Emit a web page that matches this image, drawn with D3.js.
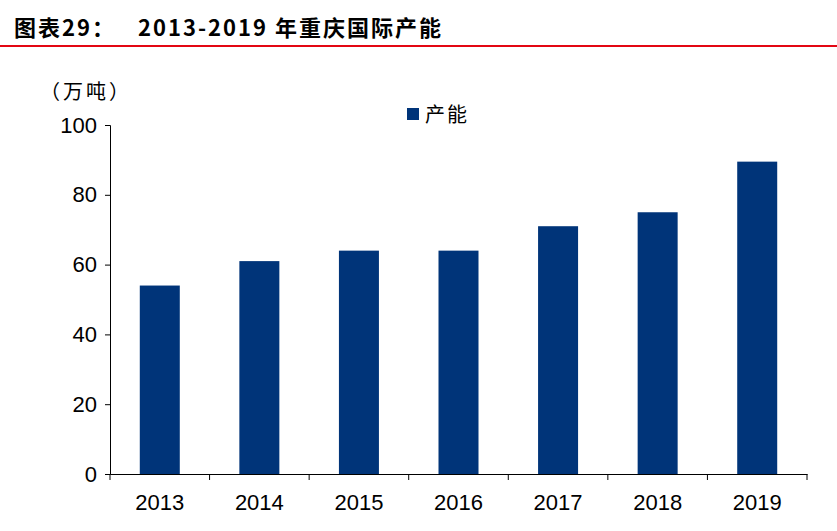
<!DOCTYPE html>
<html lang="zh">
<head>
<meta charset="UTF-8" />
<title>重庆国际产能</title>
<style>
  body { margin: 0; background: #fff; }
  text { font-family: "Liberation Sans", Arial, sans-serif; }
  .cjk { font-family: "Noto Sans CJK SC", sans-serif; }
</style>
</head>
<body>
<div id="container"></div>
<script src="https://cdnjs.cloudflare.com/ajax/libs/d3/7.8.5/d3.min.js"></script>
<script>
  let years = ["2013", "2014", "2015", "2016", "2017", "2018", "2019"],
      capacity = [54, 61, 64, 64, 71, 75, 89.5],
      yTicks = [0, 20, 40, 60, 80, 100];

  let W = 837, H = 531,
      m = { left: 110, right: 30, top: 125, bottom: 57 };

  let svg = d3.select("#container").append("svg").attr("width", W).attr("height", H);

  // 标题
  let title = svg.append("text").attr("class", "cjk").attr("y", 36)
    .attr("font-size", 22).attr("font-weight", "bold").attr("letter-spacing", 2);
  title.append("tspan").attr("x", 14).text("图表29：");
  title.append("tspan").attr("x", 138).text("2013-2019 年重庆国际产能");
  svg.append("line").attr("x1", 0).attr("x2", W).attr("y1", 46).attr("y2", 46)
    .attr("stroke", "#e30613").attr("stroke-width", 2);

  let x = d3.scaleBand().domain(years).range([m.left, W - m.right]).paddingInner(0).paddingOuter(0);
  let y = d3.scaleLinear().domain([0, 100]).range([H - m.bottom, m.top]);

  let g = svg.append("g");
  g.selectAll("rect").data(capacity).enter().append("rect")
    .attr("x", (d, i) => x(years[i]) + x.bandwidth() / 2 - 20)
    .attr("width", 40)
    .attr("y", d => y(d))
    .attr("height", d => y(0) - y(d))
    .attr("fill", "#003479");

  let ya = svg.append("g").attr("transform", `translate(${m.left},0)`)
    .call(d3.axisLeft(y).tickValues(yTicks).tickSize(5).tickPadding(8));
  ya.selectAll("text").attr("font-size", 22).attr("fill", "#000");
  ya.selectAll("path, line").attr("stroke", "#000");

  let xa = svg.append("g").attr("transform", `translate(0,${y(0)})`)
    .call(d3.axisBottom(x).tickSize(0).tickPadding(20));
  xa.selectAll("text").attr("font-size", 22).attr("fill", "#000");
  xa.select("path").attr("stroke", "#000");
  // 类别间刻度
  xa.selectAll(".sep").data(d3.range(years.length + 1)).enter().append("line")
    .attr("x1", i => m.left + i * x.bandwidth()).attr("x2", i => m.left + i * x.bandwidth())
    .attr("y1", 0).attr("y2", 6).attr("stroke", "#000");

  svg.append("text").attr("class", "cjk").attr("x", 40).attr("y", 99)
    .attr("font-size", 20).attr("letter-spacing", 3).text("（万吨）");

  // 图例
  svg.append("rect").attr("x", 407).attr("y", 108).attr("width", 12).attr("height", 12).attr("fill", "#003479");
  svg.append("text").attr("class", "cjk").attr("x", 425).attr("y", 122)
    .attr("font-size", 20).attr("letter-spacing", 2).text("产能");
</script>
</body>
</html>
